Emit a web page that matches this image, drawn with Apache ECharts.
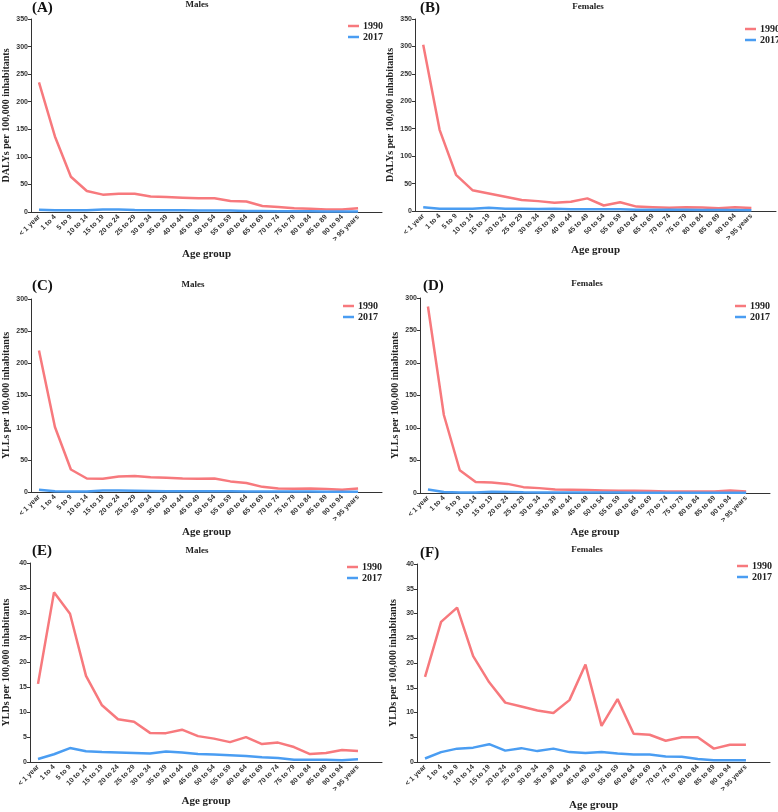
<!DOCTYPE html>
<html><head><meta charset="utf-8">
<script src="https://cdn.jsdelivr.net/npm/echarts@6/dist/echarts.min.js"></script>
<style>html,body{margin:0;padding:0;background:#fff}#c{width:778px;height:812px}</style>
</head><body><div id="c"></div>
<script>
const categories = ["< 1 year","1 to 4","5 to 9","10 to 14","15 to 19","20 to 24","25 to 29","30 to 34","35 to 39","40 to 44","45 to 49","50 to 54","55 to 59","60 to 64","65 to 69","70 to 74","75 to 79","80 to 84","85 to 89","90 to 94","> 95 years"];
const seriesNames = ["1990","2017"];

const dalyMale1990 = [235,137,64,38,31.5,33,33,28,27,26,25,25,20,19,11,9,7,6,4.5,4.5,7];
const dalyMale2017 = [4,3,3,3,4.5,4.5,3.5,3,3,3,2.5,2.5,2.5,2,2,1.5,1.5,1.5,1,1,1];
const dalyFemale1990 = [303,148,66,38,32,26,20,18,15,17,23,10,16,8,7,6,7,6.5,5,7,5.5];
const dalyFemale2017 = [7,4,4,4,6,4,4,3.5,4,3,3,3,3,2.5,2.5,2.5,2.5,2,2,2,1.5];

const yllMale1990 = [220,101,35,21,20.5,24,25,23,22,21,20.5,21,16.5,14,8,5.5,5,5.5,4.5,3.5,5.5];
const yllMale2017 = [3.5,1,0.8,0.8,2.5,2.5,2,1.5,1,1,1.2,1.2,1,0.8,0.8,0.7,0.7,0.7,0.5,0.5,0.5];
const yllFemale1990 = [287,120,35,17,16,14,9,7.5,5.5,5,4.5,4,3.5,3.5,3,2.5,2.5,2.5,2.5,4,2.5];
const yllFemale2017 = [5.5,1.5,0.8,0.8,2,1.5,1,0.8,0.7,0.6,0.6,0.6,0.6,0.5,0.5,0.5,0.5,0.5,0.5,0.5,0.5];

const yldMale1990 = [15.7,34.1,29.8,17.3,11.4,8.6,8.1,5.85,5.8,6.5,5.2,4.7,4.0,5.0,3.6,3.9,3.0,1.6,1.8,2.4,2.2];
const yldMale2017 = [0.6,1.55,2.8,2.15,2.0,1.9,1.8,1.7,2.1,1.9,1.6,1.5,1.35,1.2,0.95,0.8,0.45,0.45,0.45,0.35,0.55];
const yldFemale1990 = [17.2,28.3,31.2,21.4,16.1,12.0,11.2,10.4,9.9,12.5,19.7,7.3,12.7,5.7,5.5,4.3,5.0,5.0,2.7,3.5,3.5];
const yldFemale2017 = [0.7,2.0,2.7,2.9,3.6,2.3,2.8,2.2,2.7,2.0,1.8,2.0,1.7,1.5,1.5,1.1,1.05,0.6,0.35,0.35,0.35];

const panelLetters = ["(A)","(B)","(C)","(D)","(E)","(F)"];
const panelSex = ["Males","Females","Males","Females","Males","Females"];
const yNames = ["DALYs per 100,000 inhabitants","DALYs per 100,000 inhabitants","YLLs per 100,000 inhabitants","YLLs per 100,000 inhabitants","YLDs per 100,000 inhabitants","YLDs per 100,000 inhabitants"];
const yMax = [350,350,300,300,40,40];
const yInterval = [50,50,50,50,5,5];
const xName = "Age group";

const panelData = [
  [dalyMale1990, dalyMale2017],[dalyFemale1990, dalyFemale2017],
  [yllMale1990, yllMale2017],[yllFemale1990, yllFemale2017],
  [yldMale1990, yldMale2017],[yldFemale1990, yldFemale2017]
];

// layout: [left, right-edge, top, bottom]
const boxes = [
  [27,382,19,212],[415,776,19,211],
  [28,382,299,492],[420,770,298,493],
  [29,382,563,762],[417,770,564,764]
];
const xNameGaps = [37,31,35,34,33,38];
const legendPos = [[348,21],[745,24],[343,301],[735,301],[347,562],[737,561]];
const letterPos = [[32,1],[420,1],[32,279],[423,279],[32,544],[420,546]];
const sexPos = [[197,0],[588,2],[193,280],[587,279],[197,546],[587,545]];

const colors = ['#F7797D','#4A9DF2'];
const axisCats = categories.concat(['']);
const serif = '"Liberation Serif","Times New Roman",serif';
const sans = '"Liberation Sans",Arial,sans-serif';

const grid=[], xAxis=[], yAxis=[], series=[], legend=[], title=[];
boxes.forEach((b,i)=>{
  grid.push({left:b[0], top:b[2], width:b[1]-b[0], height:b[3]-b[2], containLabel:false});
  xAxis.push({type:'category', gridIndex:i, data:axisCats, boundaryGap:true,
    axisLine:{lineStyle:{color:'#333',width:1}},
    axisTick:{alignWithLabel:true, length:3, lineStyle:{color:'#333'}, interval:(idx)=>idx<categories.length},
    axisLabel:{rotate:45, interval:0, fontSize:7, fontWeight:'bold', fontFamily:sans, color:'#333', margin:4},
    name:xName, nameLocation:'middle', nameGap:xNameGaps[i],
    nameTextStyle:{fontFamily:serif, fontWeight:'bold', fontSize:11, color:'#222'}
  });
  yAxis.push({type:'value', gridIndex:i, min:0, max:yMax[i], interval:yInterval[i],
    axisLine:{show:true, lineStyle:{color:'#333',width:1}},
    axisTick:{show:true, length:3, lineStyle:{color:'#333'}},
    splitLine:{show:false},
    axisLabel:{fontSize:7, fontWeight:'bold', fontFamily:sans, color:'#333', margin:3},
    name:yNames[i], nameLocation:'middle', nameGap:(i>=4?19:20), nameRotate:90,
    nameTextStyle:{fontFamily:serif, fontWeight:'bold', fontSize:10, color:'#222'}
  });
  panelData[i].forEach((d,k)=>{
    series.push({type:'line', name:seriesNames[k], xAxisIndex:i, yAxisIndex:i, data:d,
      showSymbol:false, symbol:'none', lineStyle:{width:2.5,color:colors[k]}, itemStyle:{color:colors[k]}, z:k===0?2:3});
  });
  legend.push({left:legendPos[i][0], top:legendPos[i][1], orient:'vertical', data:seriesNames,
    icon:'rect', itemWidth:11, itemHeight:2.5, itemGap:1, padding:0,
    textStyle:{fontFamily:serif, fontWeight:'bold', fontSize:10, color:'#222', padding:[0,0,0,-1]}});
  title.push({text:panelLetters[i], left:letterPos[i][0], top:letterPos[i][1], padding:0,
    textStyle:{fontFamily:serif, fontWeight:'bold', fontSize:15, color:'#111'}});
  title.push({text:panelSex[i], left:sexPos[i][0], top:sexPos[i][1], padding:0, textAlign:'center',
    textStyle:{fontFamily:serif, fontWeight:'bold', fontSize:9, color:'#222'}});
});

const chart = echarts.init(document.getElementById('c'), null, {renderer:'canvas'});
chart.setOption({animation:false, backgroundColor:'#fff', color:colors, grid, xAxis, yAxis, series, legend, title});
</script></body></html>
